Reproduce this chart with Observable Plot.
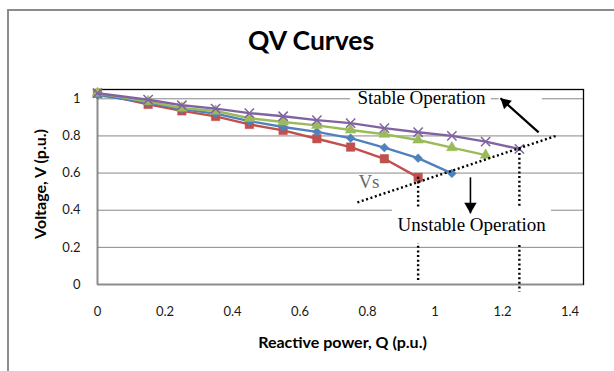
<!DOCTYPE html>
<html>
<head>
<meta charset="utf-8">
<script src="https://cdn.jsdelivr.net/npm/d3@7"></script>
<script src="https://cdn.jsdelivr.net/npm/@observablehq/plot@0.6"></script>
<style>
  body { margin: 0; background: #fff; }
  #wrap { position: relative; width: 614px; height: 371px; overflow: hidden; background: #fff; }
  #border { position: absolute; left: 7px; top: 9px; width: 800px; height: 600px;
            border-left: 2px solid #8c8c8c; border-top: 2px solid #8c8c8c; box-sizing: border-box; }
  #title { position: absolute; left: 311px; top: 27px; transform: translateX(-50%);
           font: bold 26.5px Lato, "Open Sans", sans-serif; line-height: 26px; color: #000; white-space: nowrap; }
  #chart { position: absolute; left: 0; top: 0; }
</style>
</head>
<body>
<div id="wrap">
  <div id="border"></div>
  <div id="chart"></div>
  <div id="title">QV Curves</div>
</div>
<script>
// ---- data ----
const Q = [0, 0.15, 0.25, 0.35, 0.45, 0.55, 0.65, 0.75, 0.85, 0.95, 1.05, 1.15, 1.25];
const vRed    = [1.03, 0.97, 0.935, 0.905, 0.862, 0.83, 0.785, 0.74, 0.677, 0.577];
const vBlue   = [1.02, 0.98, 0.945, 0.92, 0.88, 0.848, 0.822, 0.788, 0.737, 0.68, 0.598];
const vGreen  = [1.03, 0.985, 0.95, 0.934, 0.895, 0.875, 0.857, 0.832, 0.809, 0.778, 0.737, 0.697];
const vPurple = [1.03, 0.995, 0.965, 0.947, 0.923, 0.906, 0.885, 0.869, 0.842, 0.82, 0.80, 0.769, 0.73];

const xTicks = [0, 0.2, 0.4, 0.6, 0.8, 1, 1.2, 1.4];
const yTicks = [0, 0.2, 0.4, 0.6, 0.8, 1];
const gridY  = [0.2, 0.4, 0.6, 0.8, 1];

const titleText = "QV Curves";
const xLabel = "Reactive power, Q (p.u.)";
const yLabel = "Voltage, V (p.u.)";

// annotation data (in Q / V units)
const vsLine = [{q1: 0.77, v1: 0.442, q2: 1.363, v2: 0.803}];
const limitLines = [{q: 0.95, v1: 0.577, v2: 0.02}, {q: 1.25, v1: 0.73, v2: -0.04}];
const maskBoxes = [
  {q1: 0.75, q2: 1.167, v1: 0.954, v2: 1.04},
  {q1: 1.19, q2: 1.318, v1: 0.954, v2: 1.04},
  {q1: 0.874, q2: 1.345, v1: 0.221, v2: 0.415}
];
const labelsBlack = [
  {text: "Stable Operation", q: 0.77, v: 1.004},
  {text: "Unstable Operation", q: 0.889, v: 0.32}
];
const labelsGray = [{text: "Vs", q: 0.773, v: 0.553}];
const arrowUp   = [{q1: 1.307, v1: 0.819, q2: 1.194, v2: 1.003}];
const arrowDown = [{q1: 1.105, v1: 0.577, q2: 1.105, v2: 0.383}];

// ---- build ----
const series = [
  {values: vRed,    color: "#C0504D", symbol: "square",   r: 4.8, rotate: 0,  filled: true},
  {values: vBlue,   color: "#4F81BD", symbol: "square",   r: 3.5, rotate: 45, filled: true},
  {values: vGreen,  color: "#9BBB59", symbol: "triangle", r: 4.0, rotate: 0,  filled: true},
  {values: vPurple, color: "#8064A2", symbol: "times",    r: 4.3, rotate: 0,  filled: false}
];

const seriesMarks = series.flatMap(s => {
  const rows = s.values.map((v, i) => ({q: Q[i], v}));
  return [
    Plot.line(rows, {x: "q", y: "v", stroke: s.color, strokeWidth: 2.4}),
    Plot.dot(rows, s.filled
      ? {x: "q", y: "v", symbol: s.symbol, r: s.r, fill: s.color, stroke: s.color, strokeWidth: 0.5, rotate: s.rotate}
      : {x: "q", y: "v", symbol: s.symbol, r: s.r, fill: "none", stroke: s.color, strokeWidth: 1.5})
  ];
});

const dotted = {stroke: "#000", strokeWidth: 2.4, strokeDasharray: "2,2.6"};

const chart = Plot.plot({
  width: 614,
  height: 371,
  marginLeft: 97,
  marginRight: 31,
  marginTop: 89,
  marginBottom: 87,
  style: {fontFamily: "Lato, 'Open Sans', sans-serif", fontSize: "13px", color: "#1a1a1a", background: "transparent", overflow: "visible"},
  x: {domain: [0, 1.44], ticks: xTicks, tickFormat: d3.format("~g"), tickSize: 0, tickPadding: 22, label: null},
  y: {domain: [0, 1.05], ticks: yTicks, tickFormat: d3.format("~g"), tickSize: 0, tickPadding: 17, label: null},
  marks: [
    Plot.ruleY(gridY, {stroke: "#878787", strokeWidth: 1}),
    Plot.frame({stroke: "#000", strokeWidth: 1.3}),
    Plot.ruleX([0], {stroke: "#8c8c8c", strokeWidth: 1.5}),
    Plot.ruleY([0], {stroke: "#8c8c8c", strokeWidth: 1.5}),
    ...seriesMarks,
    Plot.link(vsLine, {x1: "q1", y1: "v1", x2: "q2", y2: "v2", ...dotted}),
    Plot.ruleX(limitLines, {x: "q", y1: "v1", y2: "v2", ...dotted}),
    Plot.rect(maskBoxes, {x1: "q1", x2: "q2", y1: "v1", y2: "v2", fill: "#fff"}),
    Plot.text(labelsBlack, {x: "q", y: "v", text: "text", textAnchor: "start", fill: "#000",
      fontFamily: "'Liberation Serif', 'Times New Roman', serif", fontSize: 19}),
    Plot.text(labelsGray, {x: "q", y: "v", text: "text", textAnchor: "start", fill: "#6a6a6a",
      fontFamily: "'Liberation Serif', 'Times New Roman', serif", fontSize: 19}),
    Plot.link(arrowUp, {x1: "q1", y1: "v1", x2: "q2", y2: "v2", stroke: "#000", strokeWidth: 2.2}),
    Plot.dot(arrowUp, {x: "q2", y: "v2", symbol: "triangle", r: 4.3, fill: "#000", rotate: -48, dx: 5.0, dy: 4.5}),
    Plot.link(arrowDown, {x1: "q1", y1: "v1", x2: "q2", y2: "v2", stroke: "#000", strokeWidth: 1.6}),
    Plot.dot(arrowDown, {x: "q2", y: "v2", symbol: "triangle", r: 4.6, fill: "#000", rotate: 180, dy: -7}),
    Plot.text([xLabel], {frameAnchor: "bottom", textAnchor: "middle", lineAnchor: "middle", dy: 58, dx: 2,
      text: d => d, fontWeight: "bold", fontSize: 16, fill: "#000"}),
    Plot.text([yLabel], {frameAnchor: "left", textAnchor: "middle", lineAnchor: "middle", dx: -57, dy: -3, rotate: -90,
      text: d => d, fontWeight: "bold", fontSize: 16, fill: "#000"})
  ]
});

document.getElementById("chart").appendChild(chart);
document.getElementById("title").textContent = titleText;
</script>
</body>
</html>
